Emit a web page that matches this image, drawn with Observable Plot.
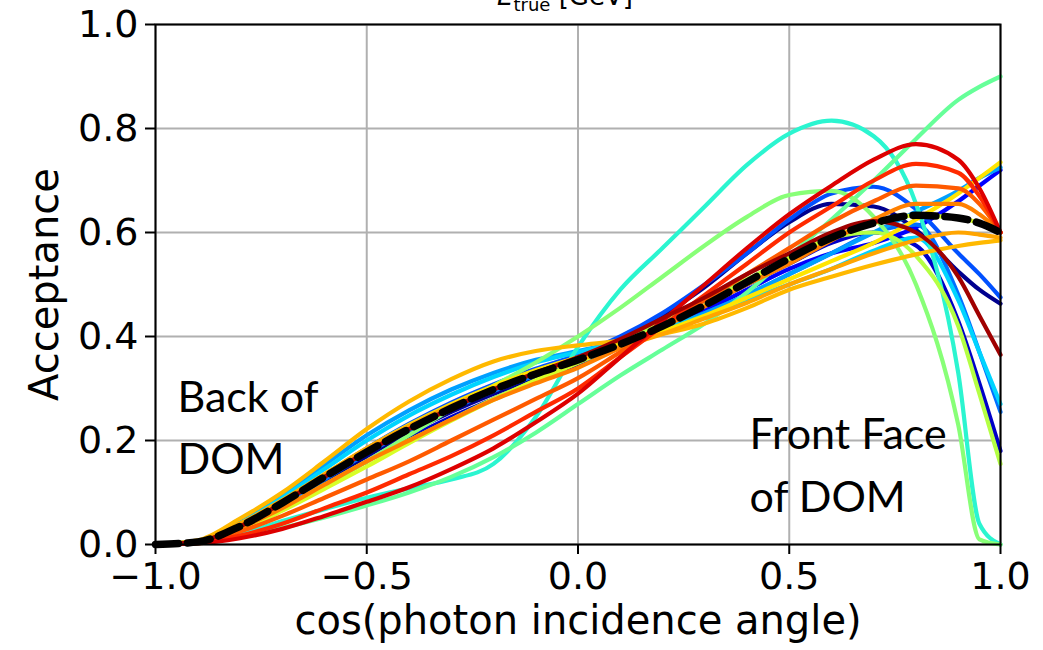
<!DOCTYPE html>
<html>
<head>
<meta charset="utf-8">
<script src="https://cdn.jsdelivr.net/npm/d3@7"></script>
<script src="https://cdn.jsdelivr.net/npm/@observablehq/plot@0.6"></script>
<style>
  body { margin: 0; background: #fff; }
  #chart svg { display: block; overflow: hidden; }
</style>
</head>
<body>
<div id="chart"></div>
<script>
// cos(photon incidence angle) sample points shared by every curve
const cosTheta = [-1, -0.9, -0.8, -0.7, -0.6, -0.5, -0.4, -0.3, -0.2, -0.1, 0,
                  0.1, 0.2, 0.3, 0.4, 0.5, 0.6, 0.7, 0.8, 0.9, 0.95, 1];

// acceptance per energy bin (low energy first)
const binNavy      = [0,0.005,0.033,0.075,0.122,0.17,0.215,0.255,0.29,0.32,0.35,0.39,0.44,0.495,0.56,0.62,0.655,0.65,0.605,0.525,0.49,0.463];
const binDeepBlue  = [0,0.005,0.03,0.07,0.115,0.16,0.205,0.245,0.28,0.315,0.345,0.38,0.42,0.46,0.5,0.54,0.58,0.6,0.575,0.43,0.31,0.18];
const binBlue      = [0,0.005,0.035,0.08,0.13,0.18,0.225,0.265,0.3,0.33,0.355,0.385,0.415,0.45,0.49,0.53,0.56,0.58,0.61,0.66,0.69,0.72];
const binRoyal     = [0,0.006,0.037,0.083,0.133,0.185,0.232,0.273,0.308,0.338,0.365,0.4,0.445,0.5,0.56,0.625,0.675,0.688,0.645,0.56,0.52,0.475];
const binSky       = [0,0.005,0.034,0.077,0.125,0.175,0.22,0.26,0.295,0.325,0.35,0.38,0.41,0.445,0.48,0.52,0.56,0.6,0.615,0.48,0.37,0.255];
const binAzure     = [0,0.007,0.045,0.097,0.153,0.21,0.258,0.298,0.33,0.355,0.372,0.39,0.415,0.445,0.48,0.52,0.56,0.6,0.64,0.68,0.705,0.725];
const binCyan      = [0,0.006,0.04,0.09,0.145,0.2,0.248,0.288,0.322,0.35,0.37,0.39,0.415,0.44,0.47,0.5,0.53,0.565,0.59,0.47,0.37,0.27];
const binTurquoise = [0,0.003,0.02,0.045,0.068,0.09,0.108,0.125,0.155,0.245,0.38,0.49,0.57,0.65,0.73,0.79,0.815,0.785,0.655,0.33,0.04,0];
const binGreen     = [0,0.002,0.015,0.032,0.052,0.075,0.1,0.13,0.168,0.215,0.27,0.325,0.375,0.425,0.485,0.555,0.625,0.7,0.78,0.855,0.88,0.9];
const binLightGreen= [0,0.004,0.03,0.068,0.112,0.16,0.21,0.26,0.305,0.35,0.4,0.455,0.515,0.575,0.63,0.672,0.68,0.63,0.5,0.23,0.01,0];
const binChartreuse= [0,0.005,0.03,0.07,0.115,0.16,0.2,0.24,0.28,0.315,0.35,0.39,0.43,0.47,0.51,0.55,0.59,0.6,0.555,0.42,0.29,0.155];
const binLime      = [0,0.004,0.028,0.065,0.107,0.15,0.195,0.238,0.278,0.316,0.35,0.385,0.42,0.46,0.505,0.55,0.59,0.618,0.633,0.628,0.618,0.6];
const binYellow    = [0,0.006,0.04,0.085,0.135,0.185,0.23,0.27,0.305,0.335,0.36,0.385,0.41,0.44,0.475,0.51,0.545,0.58,0.625,0.675,0.705,0.735];
const binGold      = [0,0.008,0.05,0.1,0.16,0.222,0.275,0.318,0.352,0.372,0.383,0.392,0.405,0.425,0.455,0.49,0.515,0.538,0.558,0.574,0.58,0.585];
const binAmber     = [0,0.006,0.04,0.085,0.135,0.185,0.228,0.267,0.3,0.33,0.355,0.38,0.405,0.435,0.465,0.5,0.53,0.56,0.585,0.6,0.596,0.59];
const binOrange    = [0,0.005,0.032,0.07,0.115,0.16,0.2,0.24,0.278,0.31,0.34,0.378,0.418,0.458,0.5,0.54,0.585,0.625,0.655,0.655,0.635,0.6];
const binDarkOrange= [0,0.004,0.025,0.055,0.09,0.125,0.16,0.2,0.24,0.28,0.32,0.37,0.42,0.47,0.52,0.57,0.62,0.66,0.69,0.685,0.655,0.6];
const binOrangeRed = [0,0.003,0.017,0.04,0.07,0.1,0.135,0.17,0.21,0.255,0.3,0.36,0.42,0.48,0.54,0.6,0.65,0.7,0.732,0.715,0.67,0.6];
const binRed       = [0,0.002,0.012,0.03,0.055,0.082,0.11,0.145,0.185,0.235,0.29,0.36,0.43,0.5,0.57,0.635,0.69,0.74,0.77,0.74,0.685,0.6];
const binDarkRed   = [0,0.005,0.035,0.08,0.13,0.178,0.222,0.262,0.298,0.33,0.36,0.395,0.435,0.475,0.52,0.56,0.6,0.622,0.6,0.515,0.44,0.365];

// acceptance averaged over all energies (dashed)
const meanAcceptance = [0,0.005,0.035,0.08,0.13,0.178,0.222,0.262,0.298,0.328,0.355,0.385,0.42,0.46,0.505,0.55,0.59,0.618,0.633,0.628,0.618,0.6];

const binNames = ["navy","deepblue","blue","royal","sky","azure","cyan","turquoise","green","lightgreen",
                  "chartreuse","lime","yellow","gold","amber","orange","darkorange","orangered","red","darkred"];
const binValues = [binNavy, binDeepBlue, binBlue, binRoyal, binSky, binAzure, binCyan, binTurquoise, binGreen, binLightGreen,
                   binChartreuse, binLime, binYellow, binGold, binAmber, binOrange, binDarkOrange, binOrangeRed, binRed, binDarkRed];
// jet colour map, blue (low energy) to dark red (high energy)
const binColors = ["#00008f","#0000c8","#0000ff","#0050ff","#0070ff","#00a0ff","#00d4ff","#2bf5d0","#66ff99","#88ff77",
                   "#b4ff44","#d8ff26","#ffe500","#ffb900","#ffa500","#ff8000","#ff5a00","#ff2a00","#dd0000","#a00000"];

const xTicks = [-1, -0.5, 0, 0.5, 1];
const yTicks = [0, 0.2, 0.4, 0.6, 0.8, 1];

const rows = binNames.flatMap((name, k) =>
  cosTheta.map((c, i) => ({series: name, cos: c, acc: binValues[k][i]})));
const meanRows = cosTheta.map((c, i) => ({cos: c, acc: meanAcceptance[i]}));

const fmt = d3.format(".1f");
const grid = {stroke: "#b0b0b0", strokeOpacity: 1, strokeWidth: 2};

const chart = Plot.plot({
  width: 1043,
  height: 650,
  marginLeft: 155,
  marginRight: 43,
  marginTop: 24,
  marginBottom: 106,
  style: {fontFamily: "'DejaVu Sans', sans-serif", fontSize: "38px", background: "white", color: "black"},
  x: {domain: [-1, 1]},
  y: {domain: [0, 1]},
  color: {type: "ordinal", domain: binNames, range: binColors},
  marks: [
    Plot.gridX(xTicks, grid),
    Plot.gridY(yTicks, grid),
    Plot.line(rows, {x: "cos", y: "acc", z: "series", stroke: "series", strokeWidth: 4.2, curve: "monotone-x"}),
    Plot.line(meanRows, {x: "cos", y: "acc", stroke: "black", strokeWidth: 7.5, strokeDasharray: "23,9", curve: "monotone-x"}),
    Plot.frame({stroke: "black", strokeWidth: 2}),
    Plot.axisX(xTicks, {tickSize: 10, tickPadding: 8, strokeWidth: 2, tickFormat: fmt, label: null, fontSize: 38}),
    Plot.axisY(yTicks, {tickSize: 10, tickPadding: 7, strokeWidth: 2, tickFormat: fmt, label: null, fontSize: 38}),
    Plot.text(["cos(photon incidence angle)"], {frameAnchor: "bottom", dy: 89, lineAnchor: "bottom", fontSize: 40}),
    Plot.text(["Acceptance"], {frameAnchor: "left", dx: -98, rotate: -90, textAnchor: "middle", lineAnchor: "bottom", fontSize: 40}),
    Plot.text(["Back of\nDOM"], {frameAnchor: "top-left", dx: 22, dy: 344, lineAnchor: "top", textAnchor: "start",
      lineHeight: 1.44, fontFamily: "Lato, 'Open Sans', sans-serif", fontSize: 43}),
    Plot.text(["Front Face\nof DOM"], {frameAnchor: "top-left", dx: 594, dy: 380, lineAnchor: "top", textAnchor: "start",
      lineHeight: 1.46, fontFamily: "Lato, 'Open Sans', sans-serif", fontSize: 43})
  ]
});

// colour-bar title above the axes (E_true with subscript), partly cut by the top edge
const title = d3.select(chart).append("text")
  .attr("x", 565).attr("y", 5)
  .attr("text-anchor", "middle")
  .attr("font-family", "'DejaVu Sans', sans-serif")
  .attr("font-size", 26)
  .attr("fill", "black");
title.append("tspan").attr("font-style", "italic").text("E");
title.append("tspan").attr("font-size", 18).attr("dy", 6).text("true");
title.append("tspan").attr("dy", -6).text(" [GeV]");

document.getElementById("chart").append(chart);
</script>
</body>
</html>
